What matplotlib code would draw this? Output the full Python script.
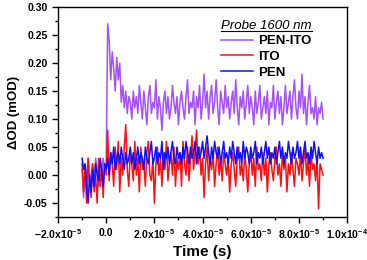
import numpy as np
import matplotlib.pyplot as plt
from matplotlib.ticker import MultipleLocator, FuncFormatter
from matplotlib.lines import Line2D

plt.rcParams['font.family'] = ['Liberation Sans', 'DejaVu Sans']
plt.rcParams['mathtext.fontset'] = 'custom'
plt.rcParams['mathtext.bf'] = 'Liberation Sans:bold'
plt.rcParams['mathtext.rm'] = 'Liberation Sans:bold'
plt.rcParams['mathtext.default'] = 'bf'

# Transient absorption traces (mOD), time from -10 us to 90 us
pen_ito = [0.01, -0.04, 0.02, -0.01, 0.03, -0.02, 0.00, 0.02, -0.01, 0.03, 0.01, -0.02, 0.02, 0.00, 0.03, 0.01,
           0.02,
           0.27, 0.24, 0.17, 0.22, 0.19, 0.15, 0.21, 0.17, 0.20, 0.13, 0.16, 0.12, 0.15, 0.11, 0.14,
           0.13, 0.10, 0.15, 0.12, 0.14, 0.11, 0.16, 0.13, 0.10, 0.15, 0.12, 0.09, 0.14, 0.16, 0.11, 0.13,
           0.12, 0.17, 0.10, 0.14, 0.12, 0.08, 0.13, 0.15, 0.11, 0.14, 0.10, 0.12, 0.16, 0.13, 0.11, 0.14,
           0.09, 0.13, 0.15, 0.12, 0.10, 0.14, 0.17, 0.11, 0.13, 0.12, 0.15, 0.09, 0.14, 0.12, 0.16, 0.10,
           0.13, 0.18, 0.12, 0.15, 0.10, 0.14, 0.16, 0.11, 0.13, 0.17, 0.12, 0.09, 0.15, 0.13, 0.11, 0.16,
           0.12, 0.14, 0.10, 0.13, 0.15, 0.11, 0.17, 0.12, 0.09, 0.14, 0.12, 0.15, 0.10, 0.13, 0.16, 0.11,
           0.14, 0.12, 0.09, 0.15, 0.11, 0.13, 0.16, 0.10, 0.12, 0.14, 0.11, 0.15, 0.09, 0.13, 0.12, 0.16,
           0.10, 0.13, 0.15, 0.11, 0.14, 0.09, 0.12, 0.16, 0.11, 0.13, 0.15, 0.10, 0.14, 0.17, 0.12, 0.10,
           0.15, 0.12, 0.18, 0.11, 0.14, 0.09, 0.13, 0.16, 0.11, 0.12, 0.10, 0.14, 0.09, 0.12, 0.11, 0.13,
           0.10]
ito = [0.02, -0.03, 0.01, -0.05, 0.03, -0.01, -0.04, 0.02, -0.03, 0.00, -0.05, 0.03, -0.02, 0.01, -0.04, 0.02,
       0.00, 0.08, -0.01, 0.04, 0.02, -0.02, 0.05, 0.01, 0.06, -0.03, 0.03, 0.00, 0.05, 0.09, 0.01, -0.02,
       0.04, 0.02, -0.01, 0.06, 0.00, 0.03, -0.03, 0.05, 0.01, 0.02, -0.02, 0.04, 0.06, 0.00, -0.01, 0.03,
       -0.05, 0.02, 0.05, 0.00, 0.03, -0.02, 0.04, 0.01, 0.06, -0.01, 0.02, 0.04, 0.00, 0.05, -0.02, 0.03,
       0.01, 0.04, -0.02, 0.06, 0.02, 0.00, 0.05, -0.01, 0.03, 0.07, 0.01, 0.04, 0.08, 0.02, 0.05, 0.00,
       0.03, -0.04, 0.02, 0.05, -0.01, 0.03, 0.01, 0.04, -0.02, 0.02, 0.05, 0.00, 0.03, -0.01, 0.04, 0.02,
       0.00, 0.03, -0.03, 0.02, 0.04, 0.01, -0.02, 0.03, 0.05, 0.00, 0.02, -0.01, 0.04, 0.01, -0.03, 0.02,
       0.04, 0.00, 0.03, -0.02, 0.05, 0.01, 0.02, -0.01, 0.04, 0.00, 0.03, -0.03, 0.02, 0.04, 0.01, -0.01,
       0.03, 0.05, 0.00, 0.02, -0.02, 0.04, 0.01, 0.03, -0.03, 0.02, 0.00, 0.04, 0.01, -0.02, 0.03, 0.02,
       0.00, 0.04, -0.01, 0.02, 0.05, 0.00, 0.03, -0.02, 0.04, 0.01, 0.02, -0.01, 0.03, -0.06, 0.02, 0.01,
       0.00]
pen = [0.03, 0.01, 0.02, -0.02, -0.05, 0.00, -0.03, 0.01, -0.02, 0.02, 0.00, -0.01, 0.03, 0.01, -0.02, 0.02,
       0.01, 0.03, 0.00, 0.04, 0.02, 0.05, 0.01, 0.03, 0.04, 0.02, 0.05, 0.03, 0.01, 0.04, 0.02, 0.03,
       0.05, 0.02, 0.04, 0.01, 0.03, 0.05, 0.02, 0.04, 0.03, 0.01, 0.05, 0.03, 0.02, 0.04, 0.06, 0.02,
       0.03, 0.05, 0.02, 0.04, 0.03, 0.06, 0.01, 0.04, 0.03, 0.05, 0.02, 0.04, 0.06, 0.03, 0.02, 0.05,
       0.03, 0.04, 0.02, 0.05, 0.03, 0.06, 0.04, 0.02, 0.05, 0.03, 0.04, 0.06, 0.02, 0.05, 0.03, 0.04,
       0.06, 0.03, 0.05, 0.07, 0.04, 0.02, 0.05, 0.03, 0.06, 0.04, 0.03, 0.05, 0.02, 0.04, 0.06, 0.03,
       0.04, 0.02, 0.05, 0.03, 0.06, 0.04, 0.02, 0.05, 0.03, 0.04, 0.02, 0.06, 0.03, 0.05, 0.04, 0.02,
       0.05, 0.03, 0.04, 0.06, 0.02, 0.04, 0.03, 0.05, 0.02, 0.04, 0.06, 0.03, 0.05, 0.02, 0.04, 0.03,
       0.05, 0.02, 0.04, 0.06, 0.03, 0.05, 0.02, 0.04, 0.03, 0.06, 0.04, 0.02, 0.05, 0.03, 0.04, 0.06,
       0.03, 0.05, 0.02, 0.04, 0.06, 0.03, 0.04, 0.02, 0.05, 0.03, 0.06, 0.04, 0.02, 0.05, 0.03, 0.04,
       0.03]
t_start, t_end = -1e-5, 9e-5
time = np.linspace(t_start, t_end, len(pen_ito))

labels = ['PEN-ITO', 'ITO', 'PEN']
colors = ['#a552f7', '#ff1010', '#1010ff']


def sci(x, pos):
    if abs(x) < 1e-12:
        return '0.0'
    e = int(np.floor(np.log10(abs(x))))
    m = x / 10**e
    return r'$%.1f\mathregular{x}10^{%d}$' % (m, e)


fig = plt.figure(figsize=(3.67, 2.6), dpi=100)
ax = fig.add_axes([0.158, 0.165, 0.788, 0.808])

for y, c, lab in zip([pen_ito, ito, pen], colors, labels):
    ax.plot(time, y, color=c, lw=1.1, label=lab)

ax.set_xlim(-2e-5, 1e-4)
ax.set_ylim(-0.075, 0.30)
ax.xaxis.set_major_locator(MultipleLocator(2e-5))
ax.xaxis.set_minor_locator(MultipleLocator(1e-5))
ax.yaxis.set_major_locator(MultipleLocator(0.05))
ax.yaxis.set_minor_locator(MultipleLocator(0.025))
ax.xaxis.set_major_formatter(FuncFormatter(sci))
ax.yaxis.set_major_formatter(FuncFormatter(lambda v, p: '%.2f' % v))
ax.tick_params(which='both', direction='out', top=False, right=False,
               width=1.0, labelsize=7.5)
ax.tick_params(which='major', length=4)
ax.tick_params(which='minor', length=2.5)
for lbl in ax.get_xticklabels() + ax.get_yticklabels():
    lbl.set_fontweight('bold')
for s in ax.spines.values():
    s.set_linewidth(1.0)

ax.set_xlabel('Time (s)', fontsize=11, fontweight='bold', labelpad=3)
ax.set_ylabel('ΔOD (mOD)', fontsize=9.5, fontweight='bold', labelpad=3)

leg = ax.legend(loc='upper right', bbox_to_anchor=(0.918, 0.995), frameon=False,
                title='Probe 1600 nm', handlelength=2.4, handletextpad=0.4,
                labelspacing=0.25, prop={'weight': 'bold', 'size': 9.5})
leg.get_title().set_fontstyle('italic')
leg.get_title().set_fontsize(9.5)
leg._legend_box.align = 'right'

fig.canvas.draw()
bb = leg.get_title().get_window_extent().transformed(fig.transFigure.inverted())
fig.add_artist(Line2D([bb.x0, bb.x1], [bb.y0 + 0.005, bb.y0 + 0.005],
                      transform=fig.transFigure, color='black', lw=0.8))

fig.savefig('out.png', dpi=100)
